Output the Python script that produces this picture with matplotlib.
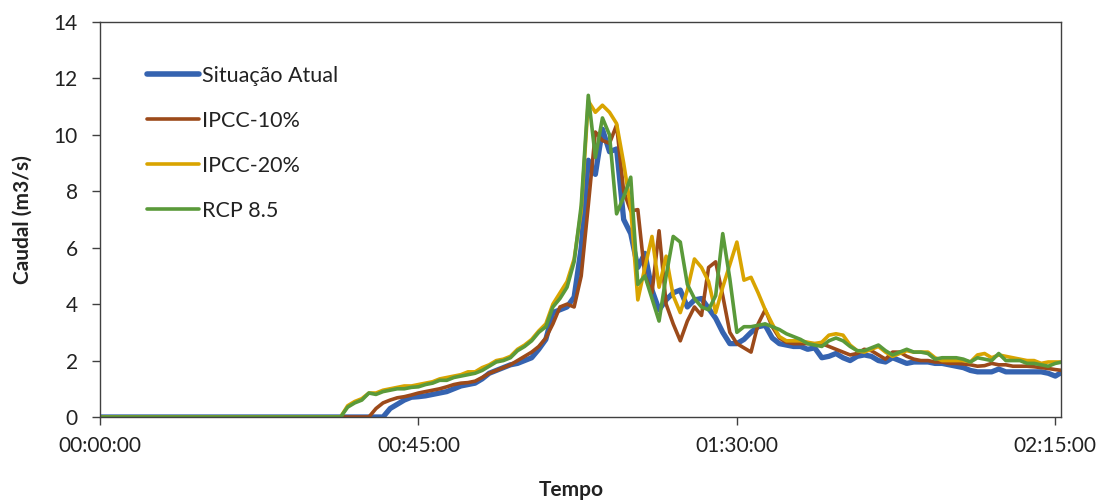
import matplotlib
matplotlib.use("Agg")
import matplotlib.pyplot as plt

# Time in minutes: origin, then one sample per minute from 33 to 136
minutes = [0] + list(range(33, 137))

situacao_atual = [0,
    0, 0, 0, 0, 0, 0, 0, 0, 0.3, 0.45, 0.6, 0.7, 0.72, 0.75, 0.8, 0.85, 0.9,
    1.0, 1.1, 1.15, 1.2, 1.35, 1.55, 1.65, 1.75, 1.85, 1.9,
    2.0, 2.1, 2.4, 2.75, 3.7, 3.8, 3.9, 4.25, 6.0, 9.1,
    8.6, 10.2, 9.4, 9.5, 7.0, 6.5, 5.3, 5.8, 4.5, 3.8,
    4.15, 4.4, 4.5, 3.9, 4.15, 4.2, 3.85, 3.5, 3.0, 2.6,
    2.6, 2.75, 3.0, 3.2, 3.25, 2.8, 2.6, 2.55, 2.5, 2.5,
    2.4, 2.45, 2.1, 2.15, 2.25, 2.1, 2.0, 2.15, 2.2, 2.15,
    2.0, 1.95, 2.1, 2.0, 1.9, 1.95, 1.95, 1.95, 1.9, 1.9,
    1.85, 1.8, 1.75, 1.65, 1.6, 1.6, 1.6, 1.7, 1.6, 1.6,
    1.6, 1.6, 1.6, 1.6, 1.55, 1.45, 1.6]

ipcc_10 = [0,
    0, 0, 0, 0, 0, 0, 0.3, 0.5, 0.6, 0.68, 0.72, 0.78, 0.85, 0.9, 0.95, 1.0, 1.07,
    1.15, 1.2, 1.22, 1.27, 1.4, 1.55, 1.65, 1.75, 1.85, 2.0,
    2.15, 2.3, 2.5, 2.8, 3.3, 3.9, 4.0, 3.9, 5.0, 7.5,
    10.1, 9.8, 9.7, 10.35, 8.0, 7.3, 7.35, 5.0, 4.4, 6.6,
    4.0, 3.3, 2.7, 3.4, 3.9, 3.6, 5.3, 5.5, 4.3, 3.0,
    2.6, 2.45, 2.3, 3.3, 3.8, 3.2, 2.8, 2.65, 2.6, 2.6,
    2.6, 2.6, 2.6, 2.5, 2.4, 2.3, 2.2, 2.25, 2.4, 2.35,
    2.2, 2.05, 2.3, 2.3, 2.15, 2.05, 2.0, 2.0, 1.95, 1.95,
    1.9, 1.9, 1.88, 1.85, 1.8, 1.82, 1.9, 1.85, 1.85, 1.8,
    1.8, 1.8, 1.78, 1.75, 1.72, 1.68, 1.65]

ipcc_20 = [0,
    0, 0, 0.4, 0.55, 0.65, 0.85, 0.85, 0.95, 1.0, 1.05, 1.1, 1.1, 1.15, 1.2, 1.25, 1.35,
    1.4, 1.45, 1.5, 1.6, 1.6, 1.75, 1.85, 2.0, 2.05, 2.15,
    2.4, 2.55, 2.75, 3.05, 3.3, 4.0, 4.4, 4.8, 5.6, 7.3,
    11.2, 10.8, 11.05, 10.8, 10.4, 9.0, 7.4, 4.15, 5.3, 6.4,
    4.6, 5.7, 4.3, 3.7, 4.5, 5.6, 5.3, 4.8, 3.7, 4.6,
    5.4, 6.2, 4.85, 4.95, 4.4, 3.8, 3.3, 2.85, 2.7, 2.7,
    2.7, 2.65, 2.6, 2.65, 2.9, 2.95, 2.9, 2.55, 2.35, 2.3,
    2.4, 2.5, 2.3, 2.15, 2.25, 2.35, 2.3, 2.3, 2.3, 2.1,
    2.0, 2.0, 2.0, 2.0, 1.95, 2.2, 2.25, 2.1, 2.2, 2.15,
    2.1, 2.05, 2.0, 2.0, 1.9, 1.95, 1.95, 1.95]

rcp_85 = [0,
    0, 0, 0.35, 0.5, 0.6, 0.85, 0.8, 0.9, 0.95, 1.0, 1.0, 1.05, 1.07, 1.15, 1.2, 1.3,
    1.3, 1.4, 1.45, 1.5, 1.55, 1.65, 1.8, 1.95, 2.0, 2.1,
    2.35, 2.5, 2.7, 3.0, 3.2, 3.9, 4.2, 4.6, 5.5, 7.5,
    11.4, 9.2, 10.6, 10.0, 7.2, 7.8, 8.5, 4.7, 5.0, 4.2,
    3.4, 5.0, 6.4, 6.2, 4.7, 4.2, 3.9, 3.8, 4.3, 6.5,
    4.9, 3.0, 3.2, 3.2, 3.25, 3.3, 3.2, 3.1, 2.95, 2.85,
    2.75, 2.6, 2.55, 2.5, 2.7, 2.8, 2.7, 2.5, 2.35, 2.35,
    2.45, 2.55, 2.35, 2.2, 2.3, 2.4, 2.3, 2.3, 2.25, 2.05,
    2.1, 2.1, 2.1, 2.05, 1.95, 2.1, 2.05, 2.0, 2.25, 2.0,
    2.0, 2.0, 1.9, 1.9, 1.85, 1.8, 1.9, 1.95]

series_names = ["Situação Atual", "IPCC-10%", "IPCC-20%", "RCP 8.5"]
x_tick_minutes = [0, 45, 90, 135]
x_tick_labels = ["00:00:00", "00:45:00", "01:30:00", "02:15:00"]
y_ticks = [0, 2, 4, 6, 8, 10, 12, 14]

plt.rcParams["font.family"] = ["Lato", "DejaVu Sans"]

fig = plt.figure(figsize=(11.03, 5.01), dpi=100)
ax = fig.add_axes([100 / 1103, 1 - 417 / 501, 961 / 1103, 395 / 501])

styles = [
    ("#3563B0", 3.8),
    ("#9C4A1A", 2.6),
    ("#D9A400", 2.6),
    ("#5A9A3A", 2.6),
]
for values, name, (color, lw) in zip(
        [situacao_atual, ipcc_10, ipcc_20, rcp_85], series_names, styles):
    ax.plot(minutes, values, color=color, lw=lw, label=name,
            solid_joinstyle="round", solid_capstyle="round")

ax.set_xlim(0, 135.8)
ax.set_ylim(0, 14)
ax.set_xticks(x_tick_minutes)
ax.set_xticklabels(x_tick_labels)
ax.set_yticks(y_ticks)
ax.tick_params(axis="both", direction="out", length=6, width=1,
               color="#404040", labelsize=15, labelcolor="#222222")
ax.tick_params(axis="x", pad=8)
ax.tick_params(axis="y", pad=10)
for side in ["left", "right", "top", "bottom"]:
    ax.spines[side].set_color("#404040")
    ax.spines[side].set_linewidth(1.0)

ax.set_ylabel("Caudal (m3/s)", fontsize=15, fontweight="bold",
              color="#222222", labelpad=15)
ax.set_xlabel("Tempo", fontsize=15, fontweight="bold",
              color="#222222", labelpad=16)
ax.xaxis.set_label_coords(0.49, -0.16)

leg = ax.legend(loc="upper left", bbox_to_anchor=(147 / 1103, 1 - 66 / 501),
                bbox_transform=fig.transFigure, frameon=False,
                fontsize=15.5, handlelength=2.42, handletextpad=0.15,
                labelspacing=1.16, borderpad=0, borderaxespad=0)
for line, lw in zip(leg.get_lines(), [4.0, 2.6, 2.6, 2.6]):
    line.set_linewidth(lw)
for txt in leg.get_texts():
    txt.set_color("#222222")

fig.savefig("out.png", dpi=100)
